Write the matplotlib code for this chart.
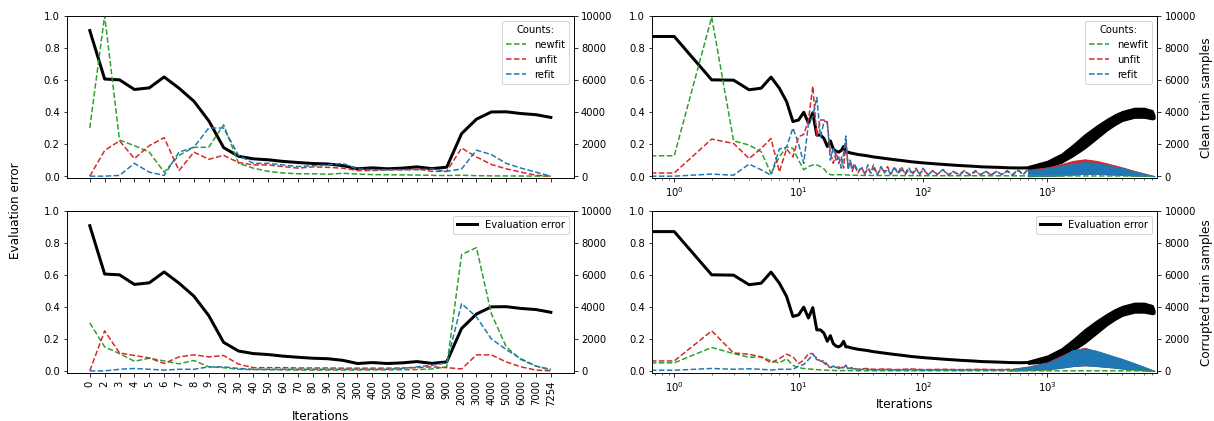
import matplotlib
matplotlib.use('Agg')
import matplotlib.pyplot as plt
import numpy as np

W, H = 1214, 421
DPI = 72

# ---------------- binned view (left column) ----------------
bin_labels = ['0', '2', '3', '4', '5', '6', '7', '8', '9', '20', '30', '40', '50', '60',
              '70', '80', '90', '200', '300', '400', '500', '600', '700', '800', '900',
              '2000', '3000', '4000', '5000', '6000', '7000', '7254']

eval_err_binned = [0.907, 0.605, 0.600, 0.540, 0.550, 0.618, 0.548, 0.467, 0.345, 0.178,
                   0.124, 0.108, 0.102, 0.092, 0.085, 0.079, 0.076, 0.066, 0.046, 0.052,
                   0.046, 0.050, 0.058, 0.047, 0.056, 0.265, 0.355, 0.400, 0.401, 0.390,
                   0.383, 0.366]

clean_newfit_binned = [3000, 10000, 2250, 1900, 1500, 250, 1300, 1800, 1800, 3200, 800, 500,
                       300, 200, 150, 150, 120, 180, 130, 100, 90, 80, 70, 50, 40, 60, 30,
                       20, 15, 10, 5, 0]
clean_unfit_binned = [0, 1600, 2200, 1100, 1900, 2400, 350, 1500, 1050, 1300, 850, 700, 700,
                      600, 500, 580, 550, 500, 350, 350, 400, 400, 450, 300, 300, 1750, 1200,
                      730, 460, 250, 60, 0]
clean_refit_binned = [0, 0, 50, 800, 250, 50, 1500, 1800, 3000, 3000, 1300, 800, 800, 700,
                      600, 650, 700, 800, 450, 400, 400, 400, 400, 450, 300, 450, 1620, 1350,
                      800, 500, 250, 0]

corr_newfit_binned = [3000, 1500, 1080, 600, 790, 620, 440, 650, 250, 200, 100, 80, 70, 60,
                      50, 50, 50, 50, 50, 60, 60, 70, 80, 120, 250, 7270, 7700, 3580, 1500,
                      700, 300, 100]
corr_unfit_binned = [0, 2500, 1120, 960, 810, 460, 875, 1000, 875, 960, 420, 200, 200, 200,
                     180, 180, 180, 170, 170, 170, 170, 180, 200, 250, 200, 120, 1000, 1000,
                     560, 250, 50, 0]
corr_refit_binned = [0, 0, 100, 150, 100, 50, 100, 100, 250, 250, 150, 100, 100, 100, 100,
                     100, 100, 100, 100, 100, 100, 150, 250, 350, 500, 4200, 3370, 2000, 1330,
                     750, 300, 50]

# ---------------- per-iteration view (right column) ----------------
eval_iter = [0, 1, 2, 3, 4, 5, 6, 7, 8, 9, 10, 11, 12, 13, 14, 15, 16, 17, 18, 19, 20, 21,
             22, 23, 24, 25, 26, 28, 30, 35, 40, 50, 60, 70, 80, 100, 130, 160, 200, 250,
             300, 400, 500, 600, 700, 800]
eval_err = [0.905, 0.870, 0.600, 0.598, 0.538, 0.548, 0.617, 0.548, 0.465, 0.340, 0.350,
            0.398, 0.330, 0.395, 0.256, 0.256, 0.235, 0.185, 0.220, 0.170, 0.155, 0.150,
            0.160, 0.185, 0.150, 0.150, 0.145, 0.140, 0.135, 0.128, 0.120, 0.110, 0.102,
            0.096, 0.090, 0.083, 0.076, 0.071, 0.066, 0.062, 0.058, 0.055, 0.052, 0.051,
            0.052, 0.055]
# spread of the noisy evaluation error late in training
band_iter = [700, 1000, 1300, 1600, 2000, 2500, 3000, 3500, 4000, 5000, 6000, 7000, 7254]
eval_lo = [0.045, 0.055, 0.085, 0.125, 0.175, 0.235, 0.285, 0.320, 0.345, 0.365, 0.365,
           0.355, 0.360]
eval_hi = [0.062, 0.095, 0.140, 0.195, 0.260, 0.315, 0.355, 0.385, 0.405, 0.425, 0.425,
           0.410, 0.380]

# first 20 iterations, one value each
early_iter = list(range(20))
clean_newfit_early = [3000, 1270, 9900, 2200, 1940, 1520, 170, 1200, 1830, 1730, 1000, 400,
                      600, 700, 700, 600, 450, 200, 100, 80]
clean_unfit_early = [0, 200, 2310, 2040, 1100, 1730, 2350, 270, 1700, 1200, 2460, 2600, 3500,
                     5600, 2500, 3500, 3500, 3300, 1500, 800]
clean_refit_early = [0, 0, 130, 60, 750, 400, 60, 1700, 1800, 3000, 2000, 800, 3300, 3700,
                     4900, 2450, 3400, 3400, 1000, 1800]
corr_newfit_early = [3000, 500, 1460, 1080, 850, 880, 620, 500, 760, 350, 200, 150, 120, 100,
                     80, 60, 50, 40, 30, 30]
corr_unfit_early = [0, 620, 2500, 1120, 1040, 875, 500, 770, 1040, 880, 460, 670, 1080, 1080,
                    700, 650, 500, 300, 200, 300]
corr_refit_early = [0, 40, 150, 100, 130, 100, 50, 100, 100, 100, 300, 400, 700, 1000, 800,
                    600, 650, 400, 200, 300]

# newfit after iteration 20 stays close to zero
newfit_late_iter = [20, 30, 100, 1000, 5000, 7254]
clean_newfit_late = [100, 50, 30, 20, 10, 0]
corr_newfit_late = [20, 10, 8, 5, 5, 0]

# jittery counts between iteration 20 and ~800
clean_zz_iter = [20, 21, 22, 23, 24, 25, 26, 27, 28, 30, 32, 34, 36, 38, 40, 43, 46, 49, 52,
                 55, 59, 63, 67, 72, 77, 82, 88, 94, 100, 110, 120, 130, 145, 160, 175, 195,
                 215, 240, 265, 290, 320, 355, 390, 430, 475, 525, 580, 640, 700, 780]
clean_unfit_zz = [1500, 800, 1200, 500, 2200, 600, 900, 300, 700, 200, 600, 100, 500, 200,
                  700, 100, 500, 300, 600, 100, 500, 200, 600, 100, 400, 200, 500, 100, 400,
                  100, 350, 100, 400, 50, 300, 100, 350, 50, 300, 100, 300, 50, 300, 100, 350,
                  100, 400, 100, 450, 200]
clean_refit_zz = [1000, 1200, 500, 1400, 2500, 400, 1000, 500, 800, 300, 500, 150, 700, 200,
                  500, 100, 600, 200, 450, 100, 600, 150, 400, 200, 550, 100, 400, 150, 500,
                  100, 300, 150, 400, 100, 300, 50, 300, 100, 350, 50, 300, 100, 300, 100,
                  300, 50, 350, 100, 400, 200]

corr_zz_iter = [20, 21, 22, 23, 24, 25, 27, 30, 35, 40, 50, 60, 80, 100, 150, 200, 300, 400,
                500]
corr_unfit_zz = [200, 250, 150, 200, 350, 150, 200, 100, 150, 100, 120, 80, 120, 80, 100, 80,
                 100, 80, 100]
corr_refit_zz = [200, 150, 200, 250, 350, 100, 150, 80, 100, 60, 80, 50, 80, 50, 70, 50, 70,
                 60, 80]

# dense counts late in training (spread of per-iteration values)
clean_band_iter = [700, 1000, 1300, 1600, 2000, 2500, 3000, 4000, 5000, 6000, 7254]
clean_refit_lo = [0, 20, 50, 100, 150, 150, 120, 80, 40, 20, 0]
clean_refit_hi = [350, 500, 650, 780, 880, 820, 700, 500, 300, 150, 0]
clean_unfit_hi = [400, 550, 750, 950, 1050, 950, 800, 550, 330, 170, 0]

corr_band_iter = [500, 700, 1000, 1300, 1600, 2000, 2500, 3000, 4000, 5000, 6000, 7254]
corr_refit_lo = [30, 50, 100, 200, 300, 350, 300, 250, 150, 80, 30, 0]
corr_refit_hi = [100, 250, 500, 900, 1300, 1400, 1250, 1050, 750, 480, 250, 0]
corr_unfit_hi = [110, 270, 530, 950, 1250, 1450, 1200, 1000, 700, 450, 230, 0]

GREEN, RED, BLUE = 'tab:green', 'tab:red', 'tab:blue'


def px_axes(fig, x0, y0, x1, y1):
    return fig.add_axes([x0 / W, 1 - y1 / H, (x1 - x0) / W, (y1 - y0) / H])


def setup_twin(ax):
    ax.set_ylim(-0.013, 1.0)
    ax.set_yticks(np.arange(0, 1.01, 0.2))
    ax2 = ax.twinx()
    ax2.set_ylim(-130, 10000)
    ax2.set_yticks(range(0, 10001, 2000))
    return ax2


def plot_binned(ax, newfit, unfit, refit, show_labels):
    pos = np.arange(len(bin_labels))
    line, = ax.plot(pos, eval_err_binned, color='black', lw=3, label='Evaluation error')
    ax2 = setup_twin(ax)
    ax2.plot(pos, newfit, '--', color=GREEN, lw=1.5, label='newfit')
    ax2.plot(pos, unfit, '--', color=RED, lw=1.5, label='unfit')
    ax2.plot(pos, refit, '--', color=BLUE, lw=1.5, label='refit')
    ax.set_xticks(pos)
    if show_labels:
        ax.set_xticklabels(bin_labels, rotation=90)
    else:
        ax.set_xticklabels([])
    return ax2, line


def plot_dense(ax, newfit_early, unfit_early, refit_early, newfit_late,
               zz_iter, unfit_zz, refit_zz, bnd_iter, refit_lo, refit_hi, unfit_hi):
    ax.set_xscale('log')
    line, = ax.plot(eval_iter, eval_err, color='black', lw=3, label='Evaluation error')
    ax.fill_between(band_iter, eval_lo, eval_hi, color='black', lw=1.5)
    ax2 = setup_twin(ax)
    ax2.plot(early_iter + newfit_late_iter, newfit_early + newfit_late, '--',
             color=GREEN, lw=1.5, label='newfit')
    ax2.plot(early_iter + zz_iter, unfit_early + unfit_zz, '--', color=RED, lw=1.5,
             label='unfit')
    ax2.fill_between(bnd_iter, refit_lo, unfit_hi, color=RED, lw=1)
    ax2.plot(early_iter + zz_iter, refit_early + refit_zz, '--', color=BLUE, lw=1.5,
             label='refit')
    ax2.fill_between(bnd_iter, refit_lo, refit_hi, color=BLUE, lw=1)
    ax.set_xlim(0.665, 7670)
    return ax2, line


fig = plt.figure(figsize=(1214.4 / DPI, 421.4 / DPI), dpi=DPI)

ax_tl = px_axes(fig, 66.7, 16, 573.7, 178.5)
ax_bl = px_axes(fig, 66.7, 211, 573.7, 373)
ax_tr = px_axes(fig, 652, 16, 1157, 178.5)
ax_br = px_axes(fig, 652, 211, 1157, 373)

tw, _ = plot_binned(ax_tl, clean_newfit_binned, clean_unfit_binned, clean_refit_binned, False)
tw.legend(title='Counts:', loc='upper right')

tw, line = plot_binned(ax_bl, corr_newfit_binned, corr_unfit_binned, corr_refit_binned, True)
tw.legend(handles=[line], loc='upper right')
ax_bl.set_xlabel('Iterations', fontsize=12)

tw, _ = plot_dense(ax_tr, clean_newfit_early, clean_unfit_early, clean_refit_early,
                   clean_newfit_late, clean_zz_iter, clean_unfit_zz, clean_refit_zz,
                   clean_band_iter, clean_refit_lo, clean_refit_hi, clean_unfit_hi)
tw.legend(handles=tw.get_lines(), title='Counts:', loc='upper right')
tw.set_ylabel('Clean train samples', fontsize=12)

tw, line = plot_dense(ax_br, corr_newfit_early, corr_unfit_early, corr_refit_early,
                      corr_newfit_late, corr_zz_iter, corr_unfit_zz, corr_refit_zz,
                      corr_band_iter, corr_refit_lo, corr_refit_hi, corr_unfit_hi)
tw.legend(handles=[line], loc='upper right')
tw.set_ylabel('Corrupted train samples', fontsize=12)
ax_br.set_xlabel('Iterations', fontsize=12)

fig.text(15 / W, 1 - 210 / H, 'Evaluation error', rotation=90, ha='center', va='center',
         fontsize=12)

fig.savefig('out.png', dpi=DPI)
